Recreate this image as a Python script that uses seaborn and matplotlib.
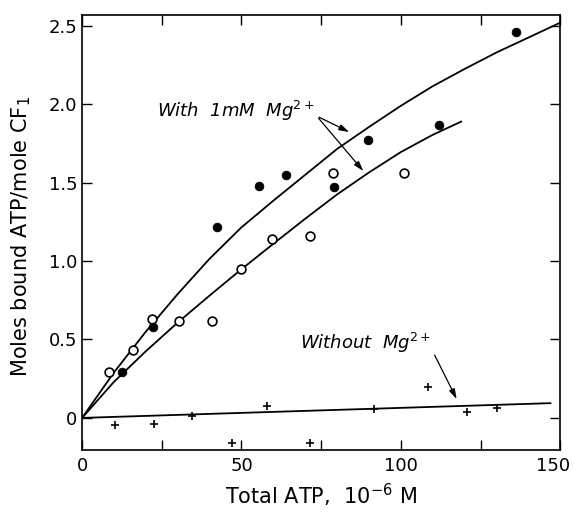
import numpy as np
import seaborn as sns
import matplotlib.pyplot as plt
from matplotlib.transforms import ScaledTranslation

# ---------------------------------------
# 1. Data
# ---------------------------------------
# filled circles: with 1 mM Mg2+ (set 1)
filled_x = [12.6, 22.2, 42.3, 55.5, 64.0, 78.9, 89.7, 112.0, 136.2]
filled_y = [0.29, 0.58, 1.22, 1.48, 1.55, 1.47, 1.77, 1.87, 2.46]

# open circles: with 1 mM Mg2+ (set 2)
open_x = [8.5, 15.9, 21.9, 30.4, 40.7, 49.9, 59.7, 71.5, 78.7, 101.0]
open_y = [0.29, 0.43, 0.63, 0.62, 0.62, 0.95, 1.14, 1.16, 1.56, 1.56]

# crosses: without Mg2+
plus_x = [10.4, 22.6, 34.4, 47.1, 58.1, 71.4, 91.6, 108.5, 120.7, 130.1]
plus_y = [-0.045, -0.036, 0.013, -0.16, 0.079, -0.16, 0.055, 0.20, 0.038, 0.062]

# drawn curves
upper_x = [0, 10, 20, 30, 40, 50, 60, 70, 80, 90, 100, 110, 120, 130, 140, 150]
upper_y = [0, 0.29, 0.55, 0.79, 1.015, 1.215, 1.385, 1.55, 1.715, 1.855,
           1.99, 2.115, 2.225, 2.33, 2.425, 2.52]

lower_x = [0, 10, 20, 30, 40, 50, 60, 70, 80, 90, 100, 110, 119]
lower_y = [0, 0.23, 0.425, 0.608, 0.78, 0.948, 1.11, 1.27, 1.425, 1.565,
           1.695, 1.805, 1.89]

nomg_x = [0, 147]
nomg_y = [0, 0.094]

# ---------------------------------------
# 2. Theme
# ---------------------------------------
sns.set_theme(style="ticks")
plt.rcParams["font.family"] = ["DejaVu Sans"]
plt.rcParams["text.color"] = "black"
plt.rcParams["xtick.direction"] = "in"
plt.rcParams["ytick.direction"] = "in"

fig = plt.figure(figsize=(5.74, 5.12), dpi=100)
ax = fig.add_axes([0.143, 0.121, 0.833, 0.850])

# ---------------------------------------
# 3. Curves and points
# ---------------------------------------
for cx, cy in [(upper_x, upper_y), (lower_x, lower_y), (nomg_x, nomg_y)]:
    sns.lineplot(x=cx, y=cy, ax=ax, color="black", linewidth=1.3, sort=False)

sns.scatterplot(x=open_x, y=open_y, ax=ax, marker="o", s=40,
                facecolor="white", edgecolor="black", linewidth=1.2, zorder=3)
sns.scatterplot(x=filled_x, y=filled_y, ax=ax, marker="o", s=40,
                color="black", edgecolor="black", zorder=3)
sns.scatterplot(x=plus_x, y=plus_y, ax=ax, marker="+", s=35,
                color="black", linewidth=1.2, zorder=3)

# ---------------------------------------
# 4. Annotations
# ---------------------------------------
arrow = dict(arrowstyle="-|>,head_length=0.5,head_width=0.15", color="black", lw=0.9)
ax.text(23.6, 1.96, "With  1mM  Mg$^{2+}$", fontsize=13, style="italic",
        va="center", color="black")
ax.annotate("", xy=(84.6, 1.815), xytext=(73.6, 1.925), arrowprops=arrow)
ax.annotate("", xy=(88.8, 1.56), xytext=(73.6, 1.925), arrowprops=arrow)

ax.text(68.4, 0.48, "Without  Mg$^{2+}$", fontsize=13, style="italic",
        va="center", color="black")
ax.annotate("", xy=(117.9, 0.104), xytext=(110.2, 0.417), arrowprops=arrow)

# ---------------------------------------
# 5. Axes
# ---------------------------------------
ax.set_xlim(0, 150)
ax.set_ylim(-0.205, 2.57)
ax.set_xticks(np.arange(0, 151, 25))
ax.set_xticklabels(["0", "", "50", "", "100", "", "150"])
ax.set_yticks([0, 0.5, 1.0, 1.5, 2.0, 2.5])
ax.set_yticklabels(["0", "0.5", "1.0", "1.5", "2.0", "2.5"])
ax.tick_params(axis="both", which="both", top=True, right=True, length=7,
               width=1, labelsize=13, color="black", labelcolor="black")
ax.tick_params(axis="x", pad=5)
for s in ax.spines.values():
    s.set_color("black")
    s.set_linewidth(1.2)

# nudge the last x label so it stays inside the figure
last = ax.get_xticklabels()[-1]
last.set_transform(last.get_transform() + ScaledTranslation(-5 / 72, 0, fig.dpi_scale_trans))

ax.set_xlabel("Total ATP,  10$^{-6}$ M", fontsize=15, color="black", labelpad=5)
ax.set_ylabel("Moles bound ATP/mole CF$_1$", fontsize=15, color="black")
ax.yaxis.set_label_coords(-0.102, 0.49)

fig.savefig("out.png", dpi=100, facecolor="white")
